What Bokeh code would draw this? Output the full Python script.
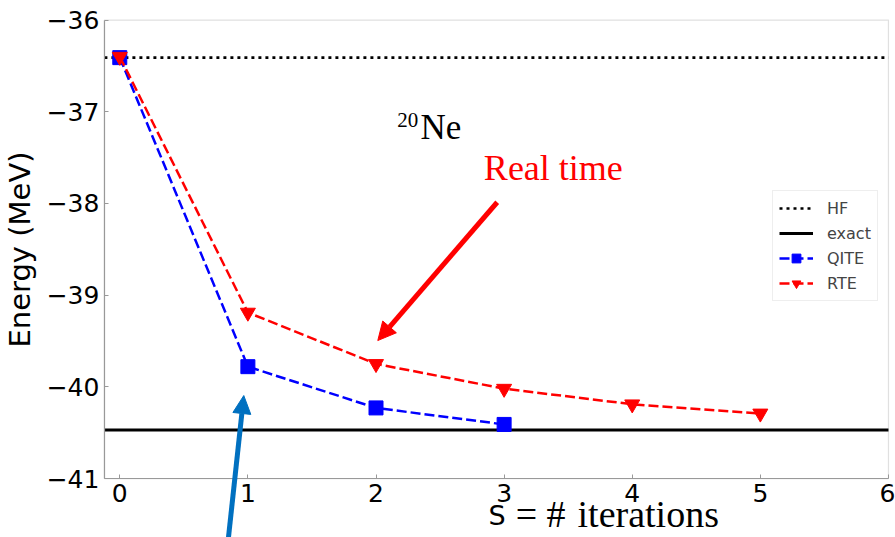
from bokeh.plotting import figure
from bokeh.models import (Range1d, Legend, LegendItem, Label, Arrow, NormalHead,
                          FixedTicker, BoxAnnotation)
from bokeh.embed import file_html
from bokeh.resources import INLINE

# Ground-state energy of 20Ne versus number of iterations
iters_qite = [0, 1, 2, 3]
energy_qite = [-36.41, -39.78, -40.23, -40.41]

iters_rte = [0, 1, 2, 3, 4, 5]
energy_rte = [-36.40, -39.19, -39.75, -40.02, -40.19, -40.29]

e_hf = -36.41
e_exact = -40.47

x_ticks = [0, 1, 2, 3, 4, 5, 6]
y_ticks = [-41, -40, -39, -38, -37, -36]

# axes box (data units)
x_lo, x_hi = -0.12, 6
y_lo, y_hi = -41, -36

# the frame fills the whole canvas; the axes sit at fixed data locations so
# that annotations may run past the axes box
p = figure(width=895, height=537, output_backend="svg", toolbar_location=None,
           x_range=Range1d(-0.931, 6.055), y_range=Range1d(-41.643, -35.787),
           min_border=0)
p.grid.visible = False
p.outline_line_color = None

p.add_layout(BoxAnnotation(left=x_lo, right=x_hi, bottom=y_lo, top=y_hi,
                           fill_alpha=0, line_color="#999999", line_width=1.2,
                           level="underlay"))

x_edges = [x_lo, x_hi]
hf_line = p.line(x_edges, [e_hf, e_hf], line_color="black", line_width=2.7,
                 line_dash="3 4")
exact_line = p.line(x_edges, [e_exact, e_exact], line_color="black", line_width=3)

qite_line = p.line(iters_qite, energy_qite, line_color="#0000ff", line_width=2.5,
                   line_dash="10 4")
qite_pts = p.scatter(iters_qite, energy_qite, marker="square", size=14,
                     fill_color="#0000ff", line_color="#0000ff")
rte_line = p.line(iters_rte, energy_rte, line_color="#ff0000", line_width=2.5,
                  line_dash="10 4")
rte_pts = p.scatter(iters_rte, energy_rte, marker="inverted_triangle", size=15,
                    fill_color="#ff0000", line_color="#ff0000")

p.xaxis.fixed_location = y_lo
p.yaxis.fixed_location = x_lo
p.xaxis.bounds = (x_lo, x_hi)
p.yaxis.bounds = (y_lo, y_hi)

for ax in (p.xaxis[0], p.yaxis[0]):
    ax.axis_line_color = "#999999"
    ax.axis_line_width = 1.2
    ax.major_tick_in = 4
    ax.major_tick_out = 0
    ax.major_tick_line_color = "#999999"
    ax.minor_tick_line_color = None
    ax.major_label_text_font = "DejaVu Sans"
    ax.major_label_text_font_size = "25px"
    ax.major_label_text_color = "black"

p.xaxis.ticker = FixedTicker(ticks=x_ticks)
p.yaxis.ticker = FixedTicker(ticks=y_ticks)
p.xaxis.major_label_overrides = {t: str(t) for t in x_ticks}
p.yaxis.major_label_overrides = {t: "\u2212" + str(abs(t)) for t in y_ticks}
p.xaxis.major_label_standoff = 5
p.yaxis.major_label_standoff = 5

p.yaxis.axis_label = "Energy (MeV)"
p.yaxis.axis_label_text_font = "DejaVu Sans"
p.yaxis.axis_label_text_font_size = "29px"
p.yaxis.axis_label_text_font_style = "normal"
p.yaxis.axis_label_text_color = "black"
p.yaxis.axis_label_standoff = 7

serif = "Liberation Serif"

# x-axis title: sans "S", serif remainder
p.add_layout(Label(x=2.878, y=-41.40, text="S", text_font="DejaVu Sans",
                   text_font_size="27px", text_color="black",
                   text_baseline="alphabetic"))
p.add_layout(Label(x=3.09, y=-41.387, text="=", text_font=serif,
                   text_font_size="38px", text_color="black",
                   text_baseline="alphabetic"))
p.add_layout(Label(x=3.33, y=-41.387, text="#", text_font=serif,
                   text_font_size="38px", text_color="black",
                   text_baseline="alphabetic"))
p.add_layout(Label(x=3.573, y=-41.387, text="iterations", text_font=serif,
                   text_font_size="38px", text_color="black",
                   text_baseline="alphabetic"))

# nucleus tag
p.add_layout(Label(x=2.166, y=-37.093, text="20", text_font=serif,
                   text_font_size="21px", text_color="black",
                   text_baseline="alphabetic"))
p.add_layout(Label(x=2.347, y=-37.170, text="Ne", text_font=serif,
                   text_font_size="35px", text_color="black",
                   text_baseline="alphabetic"))

p.add_layout(Label(x=2.842, y=-37.619, text="Real time", text_font=serif,
                   text_font_size="36px", text_color="#ff0000",
                   text_baseline="alphabetic"))

# annotation arrows
p.add_layout(Arrow(x_start=2.946, y_start=-37.987, x_end=2.014, y_end=-39.495,
                   line_color="#ff0000", line_width=5,
                   end=NormalHead(size=18, fill_color="#ff0000",
                                  line_color="#ff0000", line_width=1)))
p.add_layout(Arrow(x_start=0.829, y_start=-41.894, x_end=0.968, y_end=-40.095,
                   line_color="#0070c0", line_width=5,
                   end=NormalHead(size=18, fill_color="#0070c0",
                                  line_color="#0070c0", line_width=1)))

legend = Legend(items=[
    LegendItem(label="HF", renderers=[hf_line]),
    LegendItem(label="exact", renderers=[exact_line]),
    LegendItem(label="QITE", renderers=[qite_line, qite_pts]),
    LegendItem(label="RTE", renderers=[rte_line, rte_pts]),
], location=(772, 236))
legend.label_text_font = "DejaVu Sans"
legend.label_text_font_size = "16px"
legend.label_height = 22
legend.glyph_height = 22
legend.glyph_width = 34
legend.spacing = 3
legend.padding = 6
legend.margin = 0
legend.label_standoff = 14
legend.border_line_color = "#dddddd"
legend.border_line_width = 1
legend.background_fill_alpha = 0.8
p.add_layout(legend, "center")

open("out.html", "w").write(file_html(p, INLINE))
